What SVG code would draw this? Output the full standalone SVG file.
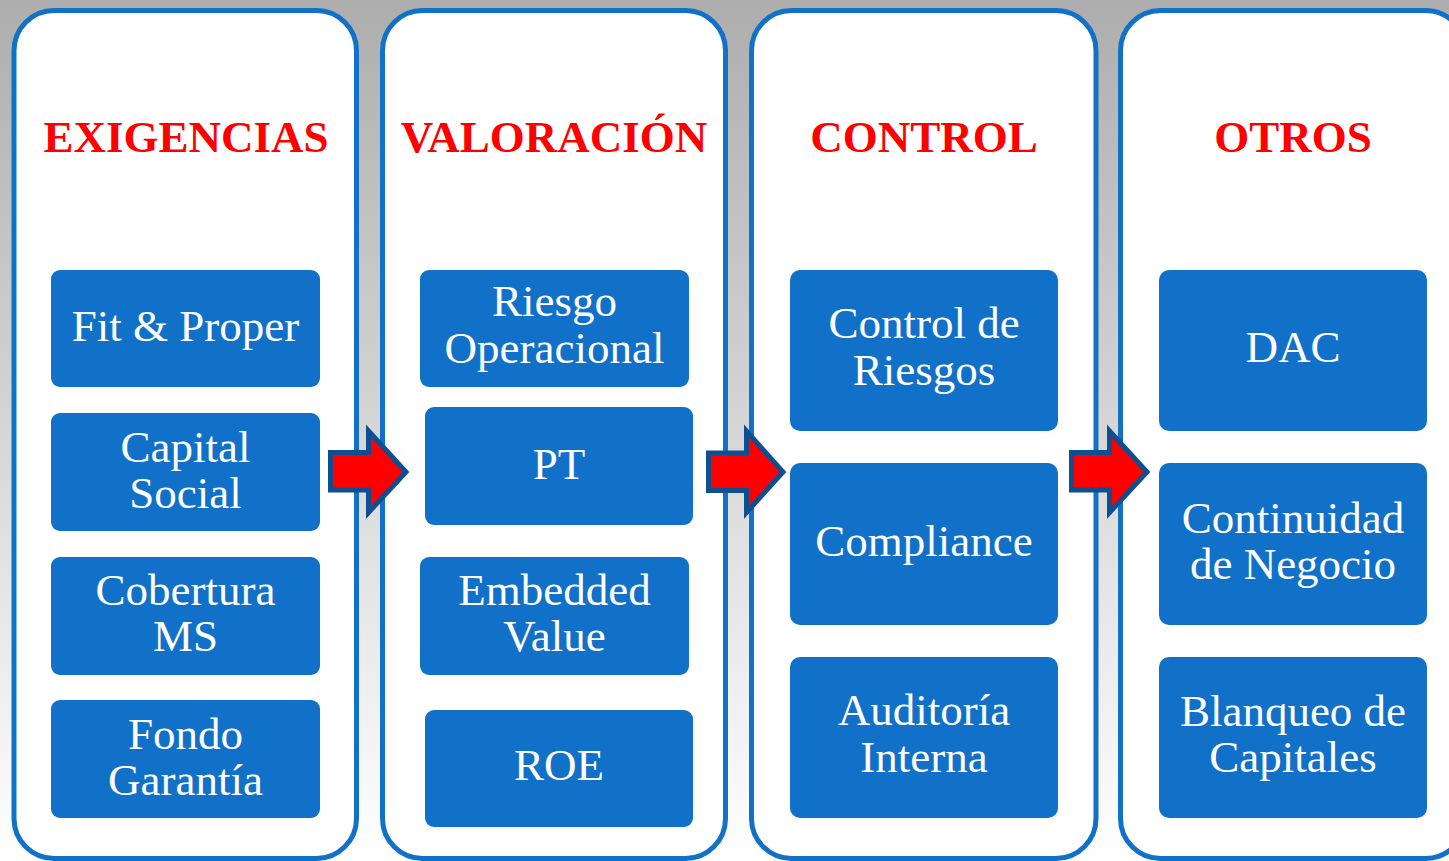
<svg xmlns="http://www.w3.org/2000/svg" width="1449" height="861" viewBox="0 0 1449 861">
<defs>
<linearGradient id="bg" x1="0" y1="0" x2="0" y2="1">
<stop offset="0" stop-color="#adadad"/>
<stop offset="1" stop-color="#ffffff"/>
</linearGradient>
<style>
.col{fill:#ffffff;stroke:#1170c8;stroke-width:5}
.box{fill:#1170c8}
.title{font-family:"Liberation Serif",serif;font-weight:bold;font-size:45px;fill:#ff0000;text-anchor:middle}
.lbl{font-family:"Liberation Serif",serif;font-size:45px;fill:#ffffff;text-anchor:middle}
.arrow{fill:#ff0000;stroke:#0e4f91;stroke-width:5;stroke-linejoin:miter}
</style>
</defs>
<rect x="0" y="0" width="1449" height="861" fill="url(#bg)"/>

<g id="col-exigencias">
<rect class="col" x="14" y="10.5" width="342.5" height="848" rx="40"/>
<text class="title" x="186" y="152">EXIGENCIAS</text>
</g>
<g id="col-valoracion">
<rect class="col" x="382.5" y="10.5" width="343" height="848" rx="40"/>
<text class="title" x="554" y="152">VALORACIÓN</text>
</g>
<g id="col-control">
<rect class="col" x="751.5" y="10.5" width="344.5" height="848" rx="40"/>
<text class="title" x="924" y="152">CONTROL</text>
</g>
<g id="col-otros">
<rect class="col" x="1120.5" y="10.5" width="345" height="848" rx="40"/>
<text class="title" x="1293" y="152">OTROS</text>
</g>

<g id="node-fit-proper"><rect class="box" x="51" y="270" width="269" height="117" rx="9"/><text class="lbl" x="185.5" y="341">Fit &amp; Proper</text></g>
<g id="node-capital-social"><rect class="box" x="51" y="413" width="269" height="118" rx="9"/><text class="lbl" x="185.5" y="462">Capital</text><text class="lbl" x="185.5" y="508">Social</text></g>
<g id="node-cobertura-ms"><rect class="box" x="51" y="557" width="269" height="118" rx="9"/><text class="lbl" x="185.5" y="605">Cobertura</text><text class="lbl" x="185.5" y="651">MS</text></g>
<g id="node-fondo-garantia"><rect class="box" x="51" y="700" width="269" height="118" rx="9"/><text class="lbl" x="185.5" y="749">Fondo</text><text class="lbl" x="185.5" y="795">Garantía</text></g>

<g id="node-riesgo-operacional"><rect class="box" x="420" y="270" width="269" height="117" rx="9"/><text class="lbl" x="554.5" y="316">Riesgo</text><text class="lbl" x="554.5" y="363">Operacional</text></g>
<g id="node-pt"><rect class="box" x="425" y="407" width="268" height="118" rx="9"/><text class="lbl" x="559" y="479">PT</text></g>
<g id="node-embedded-value"><rect class="box" x="420" y="557" width="269" height="118" rx="9"/><text class="lbl" x="554.5" y="605">Embedded</text><text class="lbl" x="554.5" y="651">Value</text></g>
<g id="node-roe"><rect class="box" x="425" y="710" width="268" height="117" rx="9"/><text class="lbl" x="559" y="780">ROE</text></g>

<g id="node-control-riesgos"><rect class="box" x="790" y="270" width="268" height="161" rx="10"/><text class="lbl" x="924" y="338">Control de</text><text class="lbl" x="924" y="385">Riesgos</text></g>
<g id="node-compliance"><rect class="box" x="790" y="463" width="268" height="162" rx="10"/><text class="lbl" x="924" y="556">Compliance</text></g>
<g id="node-auditoria-interna"><rect class="box" x="790" y="657" width="268" height="161" rx="10"/><text class="lbl" x="924" y="725">Auditoría</text><text class="lbl" x="924" y="772">Interna</text></g>

<g id="node-dac"><rect class="box" x="1159" y="270" width="268" height="161" rx="10"/><text class="lbl" x="1293" y="362">DAC</text></g>
<g id="node-continuidad"><rect class="box" x="1159" y="463" width="268" height="162" rx="10"/><text class="lbl" x="1293" y="533">Continuidad</text><text class="lbl" x="1293" y="579">de Negocio</text></g>
<g id="node-blanqueo"><rect class="box" x="1159" y="657" width="268" height="161" rx="10"/><text class="lbl" x="1293" y="726">Blanqueo de</text><text class="lbl" x="1293" y="772">Capitales</text></g>

<g id="connectors">
<polygon class="arrow" points="330.5,452.5 368.5,452.5 368.5,431 406,472 368.5,512.5 368.5,490 330.5,490"/>
<polygon class="arrow" points="708.5,453 746.5,453 746.5,431 783,472 746.5,512.5 746.5,490.5 708.5,490.5"/>
<polygon class="arrow" points="1071.5,452.5 1109.5,452.5 1109.5,431 1147,472 1109.5,512.5 1109.5,490 1071.5,490"/>
</g>
</svg>
